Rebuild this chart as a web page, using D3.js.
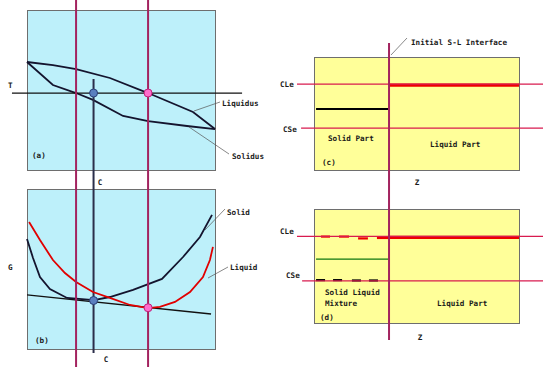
<!DOCTYPE html>
<html>
<head>
<meta charset="utf-8">
<script src="https://cdn.jsdelivr.net/npm/d3@7/dist/d3.min.js"></script>
<style>
  html, body { margin: 0; padding: 0; background: #fff; }
  svg text { font-family: "DejaVu Sans Mono", "Liberation Mono", monospace; font-size: 7.6px; font-weight: 600; fill: #1a1a1a; }
</style>
</head>
<body>
<svg id="chart" width="543" height="367"></svg>
<script>
// ---- Phase diagram (a): composition C (0..100) vs temperature T (0..100)
const liquidusC = [0, 13.8, 26.1, 44.1, 64.4, 88.3, 100];
const liquidusT = [67.5, 65.6, 63.1, 57.5, 48.1, 36.3, 25.6];
const solidusC  = [0, 13.8, 26.1, 35.1, 51.1, 64.4, 85.1, 100];
const solidusT  = [67.5, 53.1, 48.1, 43.8, 33.8, 30.6, 27.5, 25.6];
const tempT = 48.1;            // isotherm T
const compSolid = 35.4;        // C of solid at equilibrium (blue)
const compLiquid = 64.4;       // C of liquid at equilibrium (pink)
const guideC = [26.1, 64.4];   // vertical guide lines through both diagrams

// ---- Free energy diagram (b): composition C vs G (0..100)
const solidGC = [0, 3.2, 6.9, 12.2, 21.3, 35.6, 44.1, 56.4, 71.8, 83.0, 92.0, 98.4];
const solidG  = [68.8, 56.9, 45.0, 37.5, 31.9, 30.6, 32.5, 36.9, 43.8, 57.5, 70.0, 83.8];
const liquidGC = [1.1, 6.9, 13.8, 20.2, 26.1, 35.1, 44.1, 54.8, 64.4, 70.7, 78.7, 86.7, 93.6, 97.3, 98.9];
const liquidG  = [79.4, 68.1, 55.6, 47.5, 41.9, 35.6, 31.9, 27.5, 25.6, 26.3, 29.4, 35.6, 45.0, 55.6, 63.8];
const tangentC = [0, 97.9];
const tangentG = [33.8, 21.9];
const dotG = [30.3, 25.8];     // G at the blue and pink contact points

// ---- Concentration profiles (c), (d): position Z (0..100) vs concentration (0..100)
const CLe = 76, CSe = 37;
const interfaceZ = 36.6;
const initialSolidC = 54;      // solid composition before the interface (c)
const mixtureC = 56;           // mean composition of solid-liquid mixture (d)
const liquidDashes = [[3.4, 7.8, 75.8], [12.2, 17.1, 75.8], [21.5, 26.3, 74.2], [30.7, 36.6, 74.6]];
const solidDashes  = [[1.0, 5.4, 37.6], [9.3, 13.7, 37.6], [18.5, 22.9, 37.3], [26.8, 31.2, 37.3]];

const svg = d3.select("#chart");

const cyan = "#bdf0fa", yellow = "#ffff99", border = "#6e6e6e";
const guideColor = "#a3235f", levelColor = "#d81b4f", dark = "#14142e", red = "#e10000";

// scales
const x = d3.scaleLinear().domain([0, 100]).range([27, 215]);
const yT = d3.scaleLinear().domain([0, 100]).range([170, 10]);
const yG = d3.scaleLinear().domain([0, 100]).range([349, 189]);
const z = d3.scaleLinear().domain([0, 100]).range([314, 519]);
const yC = d3.scaleLinear().domain([0, 100]).range([170, 57]);
const yD = d3.scaleLinear().domain([0, 100]).range([323, 209]);

const zip = (a, b) => a.map((v, i) => [v, b[i]]);

// panel backgrounds
function panel(x0, y0, x1, y1, fill) {
  svg.append("rect").attr("x", x0 + 0.5).attr("y", y0 + 0.5)
    .attr("width", x1 - x0).attr("height", y1 - y0)
    .attr("fill", fill).attr("stroke", border).attr("stroke-width", 1);
}
panel(x(0), yT(100), x(100), yT(0), cyan);
panel(x(0), yG(100), x(100), yG(0), cyan);
panel(z(0), yC(100), z(100), yC(0), yellow);
panel(z(0), yD(100), z(100), yD(0), yellow);

function leader(x1, y1, x2, y2) {
  svg.append("line").attr("x1", x1).attr("y1", y1).attr("x2", x2).attr("y2", y2)
    .attr("stroke", "#555").attr("stroke-width", 0.7);
}
function label(txt, lx, ly, anchor) {
  svg.append("text").attr("x", lx).attr("y", ly)
    .attr("text-anchor", anchor || "start").text(txt);
}

// ---------- (a) phase diagram ----------
const lineA = d3.line().x(d => x(d[0])).y(d => yT(d[1]));
svg.append("path").datum(zip(liquidusC, liquidusT)).attr("d", lineA)
  .attr("fill", "none").attr("stroke", dark).attr("stroke-width", 1.8);
svg.append("path").datum(zip(solidusC, solidusT)).attr("d", lineA)
  .attr("fill", "none").attr("stroke", dark).attr("stroke-width", 1.8);
// isotherm
svg.append("line").attr("x1", x(-8)).attr("x2", x(114.4))
  .attr("y1", yT(tempT)).attr("y2", yT(tempT))
  .attr("stroke", "#111").attr("stroke-width", 1.3);
// solid composition vertical through both diagrams
svg.append("line").attr("x1", x(compSolid)).attr("x2", x(compSolid))
  .attr("y1", yT(tempT) - 14).attr("y2", yG(0) + 4)
  .attr("stroke", "#2b2e4a").attr("stroke-width", 2);

label("T", 8, yT(tempT) - 5);
label("Liquidus", 222, 106);
leader(194, 111, 220, 102);
label("Solidus", 232, 159);
leader(189, 127, 229, 154);
label("(a)", 32, 158);
label("C", 100, 185, "middle");

// ---------- (b) free energy ----------
const lineB = d3.line().x(d => x(d[0])).y(d => yG(d[1]));
svg.append("path").datum(zip(tangentC, tangentG)).attr("d", lineB)
  .attr("fill", "none").attr("stroke", "#111").attr("stroke-width", 1.4);
svg.append("path").datum(zip(solidGC, solidG)).attr("d", lineB)
  .attr("fill", "none").attr("stroke", dark).attr("stroke-width", 1.8);
svg.append("path").datum(zip(liquidGC, liquidG)).attr("d", lineB)
  .attr("fill", "none").attr("stroke", red).attr("stroke-width", 1.8);

label("G", 8, 270);
label("Solid", 227, 215);
leader(205, 230, 225, 209);
label("Liquid", 230, 270);
leader(208, 278, 228, 267);
label("(b)", 35, 343);
label("C", 106, 362, "middle");

// magenta guide verticals spanning both left diagrams
svg.selectAll("line.guide").data(guideC).enter().append("line")
  .attr("class", "guide")
  .attr("x1", d => x(d)).attr("x2", d => x(d))
  .attr("y1", 0).attr("y2", 367)
  .attr("stroke", guideColor).attr("stroke-width", 2);

// contact points
function dot(cx, cy, fill, stroke) {
  svg.append("circle").attr("cx", cx).attr("cy", cy).attr("r", 4)
    .attr("fill", fill).attr("stroke", stroke).attr("stroke-width", 1);
}
dot(x(compSolid), yT(tempT), "#5a7fbf", "#2b3f78");
dot(x(compLiquid), yT(tempT), "#ff6ccc", "#c0207a");
dot(x(compSolid), yG(dotG[0]), "#5a7fbf", "#2b3f78");
dot(x(compLiquid), yG(dotG[1]), "#ff6ccc", "#c0207a");

// ---------- (c) initial profile ----------
svg.append("line").attr("x1", z(1)).attr("x2", z(interfaceZ))
  .attr("y1", yC(initialSolidC)).attr("y2", yC(initialSolidC))
  .attr("stroke", "#000").attr("stroke-width", 2);
svg.append("line").attr("x1", z(interfaceZ)).attr("x2", z(100))
  .attr("y1", yC(CLe) + 1).attr("y2", yC(CLe) + 1)
  .attr("stroke", "#ee0000").attr("stroke-width", 3.2);

// ---------- (d) profile after mixing ----------
svg.append("line").attr("x1", z(1)).attr("x2", z(interfaceZ))
  .attr("y1", yD(mixtureC)).attr("y2", yD(mixtureC))
  .attr("stroke", "#117711").attr("stroke-width", 1.4);
svg.append("line").attr("x1", z(interfaceZ)).attr("x2", z(100))
  .attr("y1", yD(CLe) + 1).attr("y2", yD(CLe) + 1)
  .attr("stroke", "#ee0000").attr("stroke-width", 3.2);
svg.selectAll("line.ldash").data(liquidDashes).enter().append("line")
  .attr("class", "ldash")
  .attr("x1", d => z(d[0])).attr("x2", d => z(d[1]))
  .attr("y1", d => yD(d[2])).attr("y2", d => yD(d[2]))
  .attr("stroke", "#ee0000").attr("stroke-width", 2.2);
svg.selectAll("line.sdash").data(solidDashes).enter().append("line")
  .attr("class", "sdash")
  .attr("x1", d => z(d[0])).attr("x2", d => z(d[1]))
  .attr("y1", d => yD(d[2])).attr("y2", d => yD(d[2]))
  .attr("stroke", "#000").attr("stroke-width", 2.2);

// equilibrium levels
function level(scale, v, zStart) {
  svg.append("line").attr("x1", z(zStart)).attr("x2", 543)
    .attr("y1", scale(v)).attr("y2", scale(v))
    .attr("stroke", levelColor).attr("stroke-width", 1.3);
}
level(yC, CLe, -8.3);
level(yC, CSe, -6.3);
level(yD, CLe, -8.3);
level(yD, CSe, -5.8);

// initial solid-liquid interface
svg.append("line").attr("x1", z(interfaceZ)).attr("x2", z(interfaceZ))
  .attr("y1", 43).attr("y2", 340)
  .attr("stroke", guideColor).attr("stroke-width", 2);
leader(391, 55, 407, 38);
label("Initial S-L Interface", 411, 45);

label("CLe", 280, yC(CLe) + 3);
label("CSe", 283, yC(CSe) + 4);
label("Solid Part", 328, 141);
label("Liquid Part", 430, 147);
label("(c)", 322, 165);
label("Z", 417, 185, "middle");

label("CLe", 280, yD(CLe) - 2);
label("CSe", 286, yD(CSe) - 3);
label("Solid Liquid", 325, 295);
label("Mixture", 325, 306);
label("Liquid Part", 437, 306);
label("(d)", 320, 320);
label("Z", 420, 340, "middle");
</script>
</body>
</html>
